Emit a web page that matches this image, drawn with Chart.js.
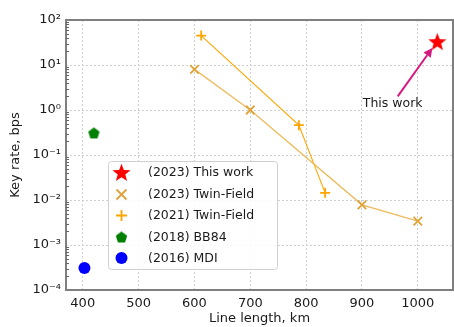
<!DOCTYPE html>
<html><head><meta charset="utf-8">
<script src="https://cdn.jsdelivr.net/npm/chart.js@4/dist/chart.umd.min.js"></script>
<style>html,body{margin:0;padding:0;background:#fff}#wrap{width:454px;height:327px;position:relative}</style>
</head><body><div id="wrap"><canvas id="c" width="454" height="327"></canvas></div>
<script>
// ---- data ----
const seriesNames = ['(2023) This work','(2023) Twin-Field','(2021) Twin-Field','(2018) BB84','(2016) MDI'];
const thisWorkX = [1035];
const thisWorkY = [33];
const tf2023X = [600, 700, 900, 1000];
const tf2023Y = [8, 1, 0.0078, 0.0034];
const tf2021X = [612, 787, 834];
const tf2021Y = [45, 0.46, 0.0144];
const bb84X = [420];
const bb84Y = [0.31];
const mdiX = [403];
const mdiY = [0.00031];
const xTicks = [400, 500, 600, 700, 800, 900, 1000];
const xTickLabels = ['400','500','600','700','800','900','1000'];
const yTicks = [1e-4, 1e-3, 1e-2, 1e-1, 1e0, 1e1, 1e2];
const yTickLabels = ['10\u207B\u2074','10\u207B\u00B3','10\u207B\u00B2','10\u207B\u00B9','10\u2070','10\u00B9','10\u00B2'];
const annotText = 'This work';
const annotTextPos = [955, 1.36];
const annotArrowFrom = [964, 2.0];
const annotArrowTo = [1026, 24];

const pts = (xs, ys) => xs.map((x, i) => ({x, y: ys[i]}));

function makeStar(size, color){
  const c = document.createElement('canvas'); c.width = size; c.height = size;
  const g = c.getContext('2d'); const cx=size/2, cy=size/2+0.8, R=size/2, r=R*0.42;
  g.beginPath();
  for(let i=0;i<10;i++){const a=-Math.PI/2+i*Math.PI/5; const rr=i%2?r:R; g.lineTo(cx+rr*Math.cos(a), cy+rr*Math.sin(a));}
  g.closePath(); g.fillStyle=color; g.fill(); return c;
}
function makePent(size, color){
  const c = document.createElement('canvas'); c.width = size; c.height = size;
  const g = c.getContext('2d'); const cx=size/2, cy=size/2+0.6, R=size/2-0.5;
  g.beginPath();
  for(let i=0;i<5;i++){const a=-Math.PI/2+i*2*Math.PI/5; g.lineTo(cx+R*Math.cos(a), cy+R*Math.sin(a));}
  g.closePath(); g.fillStyle=color; g.fill(); return c;
}
const starImg = makeStar(19, '#ff0000');
const pentImg = makePent(13, '#008000');

const C_TF23 = '#e0a33a';
const C_TF23L = '#ecbb5c';
const C_TF21 = '#ffa500';
const FONT = "'DejaVu Sans', sans-serif";
const TXT = '#1a1a1a';

const frameLegend = {
  id: 'frameLegend',
  afterDraw(chart){
    const ctx = chart.ctx, a = chart.chartArea, xs = chart.scales.x, ys = chart.scales.y;
    ctx.save();
    ctx.strokeStyle = '#7f7f7f'; ctx.lineWidth = 2;
    ctx.strokeRect(a.left, a.top, a.right - a.left, a.bottom - a.top);
    ctx.lineWidth = 1; ctx.strokeStyle = '#666';
    for (let e=-4; e<2; e++) for (let m=2; m<10; m++){
      const yy = Math.round(ys.getPixelForValue(m*Math.pow(10,e)))+0.5;
      ctx.beginPath(); ctx.moveTo(a.left, yy); ctx.lineTo(a.left+3, yy); ctx.stroke();
    }
    const col = '#d6197f';
    const fx = xs.getPixelForValue(annotArrowFrom[0]), fy = ys.getPixelForValue(annotArrowFrom[1]);
    const tx = xs.getPixelForValue(annotArrowTo[0]), ty = ys.getPixelForValue(annotArrowTo[1]);
    const ang = Math.atan2(ty-fy, tx-fx), hl = 9, hw = 4.5;
    const bx = tx - hl*Math.cos(ang), by = ty - hl*Math.sin(ang);
    ctx.strokeStyle = col; ctx.fillStyle = col; ctx.lineWidth = 2;
    ctx.beginPath(); ctx.moveTo(fx, fy); ctx.lineTo(bx, by); ctx.stroke();
    ctx.beginPath(); ctx.moveTo(tx, ty);
    ctx.lineTo(bx + hw*Math.sin(ang), by - hw*Math.cos(ang));
    ctx.lineTo(bx - hw*Math.sin(ang), by + hw*Math.cos(ang));
    ctx.closePath(); ctx.fill();
    ctx.fillStyle = TXT; ctx.font = '12.5px ' + FONT; ctx.textAlign = 'center'; ctx.textBaseline = 'middle';
    ctx.fillText(annotText, xs.getPixelForValue(annotTextPos[0]), ys.getPixelForValue(annotTextPos[1]));
    // legend
    const L = 108, T = 161, W = 169, H = 108;
    ctx.fillStyle = 'rgba(255,255,255,0.85)'; ctx.strokeStyle = '#d0d0d0'; ctx.lineWidth = 1;
    ctx.beginPath(); ctx.roundRect(L+0.5, T+0.5, W, H, 3); ctx.fill(); ctx.stroke();
    const rowY = [172.5, 194.5, 215.5, 237, 258], mx = 121.5;
    ctx.font = '12.5px ' + FONT; ctx.textAlign = 'left';
    seriesNames.forEach((n, i) => { ctx.fillStyle = TXT; ctx.fillText(n, 148, rowY[i]+0.5); });
    ctx.drawImage(starImg, mx - 9.5, rowY[0] - 9.5);
    ctx.strokeStyle = C_TF23; ctx.lineWidth = 1.8;
    ctx.beginPath(); ctx.moveTo(mx-5,rowY[1]-5); ctx.lineTo(mx+5,rowY[1]+5); ctx.moveTo(mx+5,rowY[1]-5); ctx.lineTo(mx-5,rowY[1]+5); ctx.stroke();
    ctx.strokeStyle = C_TF21;
    ctx.beginPath(); ctx.moveTo(mx-5.5,rowY[2]); ctx.lineTo(mx+5.5,rowY[2]); ctx.moveTo(mx,rowY[2]-5.5); ctx.lineTo(mx,rowY[2]+5.5); ctx.stroke();
    ctx.drawImage(pentImg, mx - 6.5, rowY[3] - 6.5);
    ctx.fillStyle = '#0000ff'; ctx.beginPath(); ctx.arc(mx, rowY[4], 6, 0, Math.PI*2); ctx.fill();
    ctx.restore();
  }
};

new Chart(document.getElementById('c'), {
  type: 'scatter',
  data: { datasets: [
    { label: seriesNames[0], data: pts(thisWorkX, thisWorkY), pointStyle: starImg, pointRadius: 9 },
    { label: seriesNames[1], data: pts(tf2023X, tf2023Y), showLine: true, borderColor: C_TF23L, borderWidth: 1.3,
      pointStyle: 'crossRot', pointRadius: 6, pointBorderColor: C_TF23, pointBorderWidth: 1.8, pointBackgroundColor: C_TF23 },
    { label: seriesNames[2], data: pts(tf2021X, tf2021Y), showLine: true, borderColor: C_TF21, borderWidth: 1.1,
      pointStyle: 'cross', pointRadius: 5, pointBorderColor: C_TF21, pointBorderWidth: 1.8, pointBackgroundColor: C_TF21 },
    { label: seriesNames[3], data: pts(bb84X, bb84Y), pointStyle: pentImg, pointRadius: 7 },
    { label: seriesNames[4], data: pts(mdiX, mdiY), pointStyle: 'circle', pointRadius: 6, backgroundColor: '#0000ff', borderColor: '#0000ff', borderWidth: 0 }
  ]},
  options: {
    responsive: false, animation: false, devicePixelRatio: 1,
    layout: { autoPadding: false, padding: { left: 0, top: 20, right: 1, bottom: 0 } },
    plugins: { legend: { display: false }, tooltip: { enabled: false } },
    scales: {
      x: { type: 'linear', min: 370, max: 1063,
        afterBuildTicks: s => { s.ticks = xTicks.map(v => ({value: v})); },
        afterFit: s => { s.height = 37; s.paddingLeft = 0; s.paddingRight = 0; },
        ticks: { color: TXT, font: { family: FONT, size: 13 }, padding: 6, maxRotation: 0,
          callback: (v) => { const i = xTicks.indexOf(v); return i >= 0 ? xTickLabels[i] : ''; } },
        grid: { color: '#cfcfcf', lineWidth: 1, drawTicks: false },
        border: { display: false, dash: [2, 2] },
        title: { display: true, text: 'Line length, km', color: TXT, font: { family: FONT, size: 13 }, padding: { top: 0, bottom: 1 } }
      },
      y: { type: 'logarithmic', min: 1e-4, max: 1e2,
        afterBuildTicks: s => { s.ticks = yTicks.map(v => ({value: v})); },
        afterFit: s => { s.width = 66; s.paddingTop = 0; s.paddingBottom = 0; },
        ticks: { color: TXT, font: { family: FONT, size: 13 }, padding: 5,
          callback: (v) => { const i = yTicks.findIndex(t => Math.abs(Math.log10(t) - Math.log10(v)) < 1e-6); return i >= 0 ? yTickLabels[i] : ''; } },
        grid: { color: '#cfcfcf', lineWidth: 1, drawTicks: false },
        border: { display: false, dash: [2, 2] },
        title: { display: true, text: 'Key rate, bps', color: TXT, font: { family: FONT, size: 13 }, padding: { top: 8, bottom: 0 } }
      }
    }
  },
  plugins: [frameLegend]
});
</script></body></html>
